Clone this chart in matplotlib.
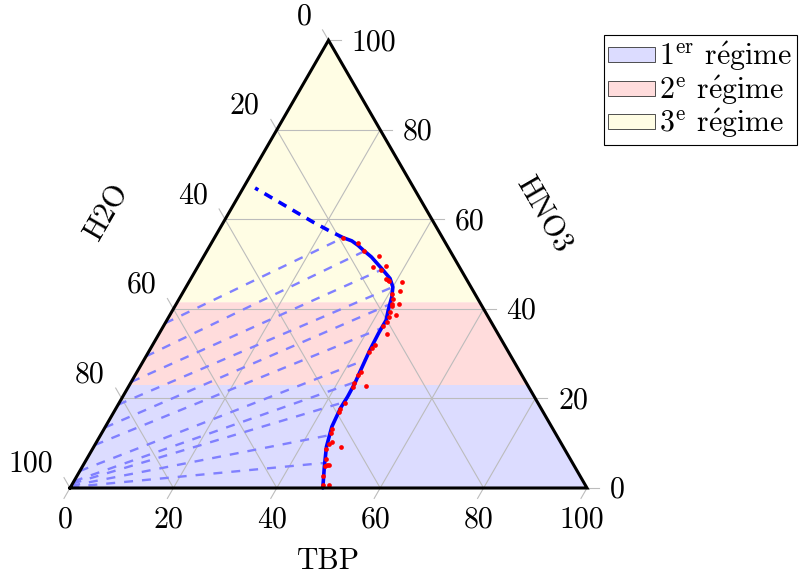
import numpy as np
import matplotlib.pyplot as plt
from matplotlib.patches import Polygon, Patch

plt.rcParams['font.family'] = ['cmr10', 'DejaVu Serif']
plt.rcParams['mathtext.fontset'] = 'cm'

# --- data (mass %, TBP along bottom, HNO3 along right side) ---
ticks = [0, 20, 40, 60, 80, 100]
regime_edges = [0, 23, 41.5, 100]
regime_colors = ['#dcdcff', '#ffdcdc', '#fffde4']
# cmr10 has no é glyph, so the accent goes through mathtext
regime_labels = [r'1$^{\mathrm{er}}$ r$\mathrm{\acute{e}}$gime',
                 r'2$^{\mathrm{e}}$ r$\mathrm{\acute{e}}$gime',
                 r'3$^{\mathrm{e}}$ r$\mathrm{\acute{e}}$gime']

# fitted binodal curve (organic side)
curve_tbp = [48.9, 46.8, 45.0, 43.8, 43.4, 43.5, 43.4, 43.1, 42.6, 42.4, 42.4,
             41.7, 40.9, 40.0, 38.5, 35.8, 32.5, 30.2, 28.6, 26.9, 24.9]
curve_hno3 = [0.0, 4.8, 9.2, 13.7, 17.9, 20.4, 23.4, 26.0, 30.8, 34.5, 37.5,
              39.7, 42.7, 44.9, 46.8, 49.0, 51.6, 53.1, 54.2, 55.2, 55.9]
# extrapolated part of the curve
ext_tbp = [24.9, 21.1, 17.3, 2.3]
ext_hno3 = [55.9, 57.6, 59.4, 67.0]

# measured points
dots_tbp = [44.2, 42.4, 43.0, 42.8, 42.7, 43.3, 43.2, 45.9, 43.3, 43.5, 43.7, 43.4,
            43.6, 44.1, 44.3, 45.6, 47.8, 45.1, 45.3, 46.3, 47.1, 47.6, 46.8, 47.5,
            48.6, 49.7, 24.9, 28.3, 30.5, 33.8, 34.0, 36.3, 35.8, 37.8, 38.4, 38.6,
            41.2, 41.8, 40.7, 41.4, 41.6, 42.0, 43.1, 42.2, 43.7, 42.6, 42.8]
dots_hno3 = [34.4, 36.2, 31.9, 31.2, 30.4, 26.0, 25.2, 22.8, 23.4, 22.6, 19.0, 17.6,
             17.0, 13.1, 12.2, 10.3, 9.2, 9.8, 8.6, 6.4, 5.1, 5.1, 5.0, 2.7,
             0.7, 0.6, 55.9, 54.8, 52.9, 51.9, 49.4, 49.6, 48.7, 46.7, 46.4, 46.3,
             46.1, 44.0, 43.3, 42.3, 41.2, 40.6, 41.2, 39.4, 38.6, 38.2, 37.1]

# tie lines: organic end (TBP, HNO3) and aqueous end (HNO3, no TBP)
tie_org_tbp = [24.9, 30.5, 35.8, 40.0, 41.6, 42.4, 42.8, 43.4, 43.5, 44.3, 46.4]
tie_org_hno3 = [55.9, 52.9, 48.7, 44.9, 41.2, 35.7, 28.6, 23.7, 19.2, 11.8, 5.6]
tie_aq_hno3 = [36.8, 29.4, 23.7, 18.6, 13.5, 9.6, 3.8, 1.5, 1.0, 0.5, 0.2]

SQ = np.sqrt(3) / 2
PX = 1 / 517  # one pixel in data units


def to_xy(tbp, hno3):
    tbp = np.asarray(tbp, float) / 100
    hno3 = np.asarray(hno3, float) / 100
    return tbp + hno3 / 2, hno3 * SQ


fig = plt.figure(figsize=(8.01, 5.74), dpi=100)
ax = fig.add_axes([0, 0, 1, 1])
ax.set_xlim(-70 * PX, 731 * PX)
ax.set_ylim(-86 * PX, 488 * PX)
ax.axis('off')

# regime bands
for h0, h1, col in zip(regime_edges[:-1], regime_edges[1:], regime_colors):
    x, y = to_xy([0, 100 - h0, 100 - h1, 0], [h0, h0, h1, h1])
    ax.add_patch(Polygon(np.c_[x, y], closed=True, facecolor=col, edgecolor='none', zorder=1))

# grid and ticks
gcol = '#bcbcbc'
L = 12 * PX
for v in ticks:
    # HNO3 = v (horizontal), tick to the right
    x, y = to_xy([0, 100 - v], [v, v])
    if 0 < v < 100:
        ax.plot(x, y, color=gcol, lw=0.8, zorder=2)
    ax.plot([x[1], x[1] + L], [y[1], y[1]], color=gcol, lw=0.8, zorder=2)
    ax.text(x[1] + 23 * PX, y[1] - 10 * PX, str(v), ha='left', va='baseline', fontsize=21.5)
    # TBP = v, tick down-left
    x, y = to_xy([v, v], [0, 100 - v])
    if 0 < v < 100:
        ax.plot(x, y, color=gcol, lw=0.8, zorder=2)
    ax.plot([x[0], x[0] - 0.5 * L], [y[0], y[0] - SQ * L], color=gcol, lw=0.8, zorder=2)
    ax.text(x[0] - 5 * PX, y[0] - 40 * PX, str(v), ha='center', va='baseline', fontsize=21.5)
    # H2O = v, tick up-left
    x, y = to_xy([100 - v, 0], [0, 100 - v])
    if 0 < v < 100:
        ax.plot(x, y, color=gcol, lw=0.8, zorder=2)
    ax.plot([x[1], x[1] - 0.5 * L], [y[1], y[1] + SQ * L], color=gcol, lw=0.8, zorder=2)
    ax.text(x[1] - 17 * PX, y[1] + 16 * PX, str(v), ha='right', va='baseline', fontsize=21.5)

# tie lines
for t, h, a in zip(tie_org_tbp, tie_org_hno3, tie_aq_hno3):
    x, y = to_xy([0, t], [a, h])
    ax.plot(x, y, color='#8080ff', lw=1.7, ls=(0, (3.8, 3.8)), zorder=3)

# curve
x, y = to_xy(ext_tbp, ext_hno3)
ax.plot(x, y, color='blue', lw=2.6, ls=(0, (2.5, 2.0)), zorder=4)
x, y = to_xy(curve_tbp, curve_hno3)
ax.plot(x, y, color='blue', lw=2.6, zorder=4, solid_capstyle='round')
x, y = to_xy(dots_tbp, dots_hno3)
ax.plot(x, y, 'o', color='red', ms=3.4, mec='none', zorder=5)

# triangle border
x, y = to_xy([0, 100, 0, 0], [0, 0, 100, 0])
ax.plot(x, y, color='black', lw=2.2, zorder=6, solid_joinstyle='miter')

# axis titles
ax.text(0.5, -81 * PX, 'TBP', ha='center', va='baseline', fontsize=21.5)
ax.text(37 * PX, 275 * PX, 'H2O', ha='center', va='center', rotation=60, fontsize=21.5)
ax.text(472.5 * PX, 273 * PX, 'HNO3', ha='center', va='center', rotation=-60, fontsize=21.5)

handles = [Patch(facecolor=c, edgecolor='#333333', lw=0.6) for c in regime_colors]
leg = ax.legend(handles, regime_labels, loc='upper left',
                bbox_to_anchor=(604 / 801, 1 - 35 / 574), bbox_transform=fig.transFigure,
                borderaxespad=0, fontsize=21.5, frameon=True, fancybox=False,
                edgecolor='black', framealpha=1, handlelength=1.55, handleheight=0.4,
                handletextpad=0.15, labelspacing=0.0, borderpad=0.15)
leg.get_frame().set_linewidth(0.8)

fig.savefig('out.png', dpi=100)
